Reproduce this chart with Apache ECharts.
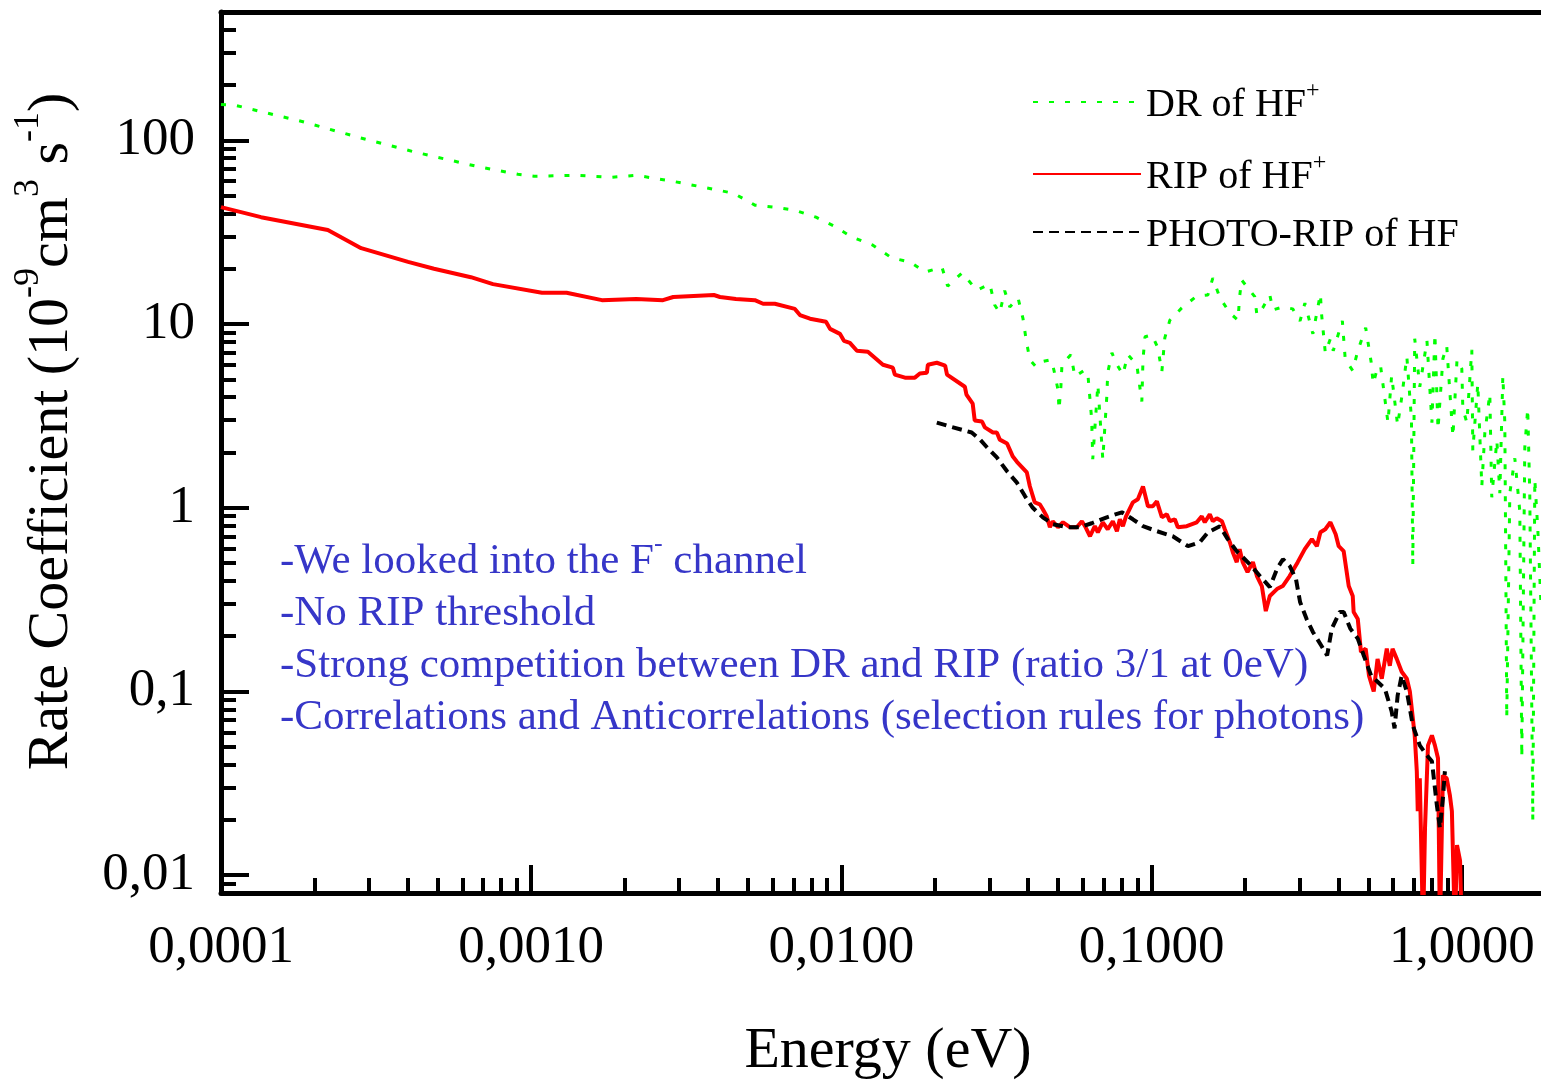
<!DOCTYPE html>
<html>
<head>
<meta charset="utf-8">
<script src="https://cdn.jsdelivr.net/npm/echarts@6/dist/echarts.min.js"></script>
<style>
html,body{margin:0;padding:0;background:#fff;}
#main{width:1541px;height:1082px;}
</style>
</head>
<body>
<div id="main"></div>
<script>
// tick positions (log axes)
var xMajor = [0.0001, 0.001, 0.01, 0.1, 1];
var xMinor = [0.0002,0.0003,0.0004,0.0005,0.0006,0.0007,0.0008,0.0009,
              0.002,0.003,0.004,0.005,0.006,0.007,0.008,0.009,
              0.02,0.03,0.04,0.05,0.06,0.07,0.08,0.09,
              0.2,0.3,0.4,0.5,0.6,0.7,0.8,0.9];
var yMajor = [0.01, 0.1, 1, 10, 100];
var yMinor = [0.009,
              0.02,0.03,0.04,0.05,0.06,0.07,0.08,0.09,
              0.2,0.3,0.4,0.5,0.6,0.7,0.8,0.9,
              2,3,4,5,6,7,8,9,
              20,30,40,50,60,70,80,90,
              200,300,400];

// DR of HF+ (green dotted)
var drData = [[1.0e-4,156.8],[1.117e-4,154.9],[1.824e-4,126.8],[2.78e-4,103.8],[4.25e-4,86.1],[6.69e-4,72.2],
  [9.06e-4,65.4],[1.02e-3,63.8],[1.383e-3,64.6],[1.82e-3,63.0],[2.18e-3,64.6],[2.86e-3,59.9],[3.88e-3,54.2],
  [4.50e-3,51.5],[5.26e-3,44.4],[6.10e-3,43.3],[7.08e-3,41.7],[8.28e-3,38.2],[9.45e-3,34.2],[1.081e-2,29.8],
  [1.263e-2,26.9],[1.454e-2,22.9],[1.663e-2,21.8],[1.86e-2,19.2],[2.11e-2,20.4],[2.20e-2,16.1],[2.45e-2,19.0],
  [2.73e-2,15.3],[3.01e-2,16.5],[3.12e-2,12.7],[3.24e-2,11.5],[3.36e-2,15.2],[3.49e-2,12.4],[3.71e-2,13.9],
  [3.85e-2,10.7],[3.94e-2,8.21],[4.05e-2,6.40],[4.24e-2,5.86],[4.43e-2,6.24],[4.74e-2,6.40],[4.84e-2,5.64],
  [4.99e-2,4.40],[5.03e-2,3.42],[5.10e-2,4.56],[5.14e-2,6.01],[5.49e-2,6.81],[5.66e-2,5.18],[6.10e-2,5.64],
  [6.24e-2,5.18],[6.41e-2,3.02],[6.46e-2,1.84],[6.71e-2,4.68],[6.96e-2,1.84],[7.17e-2,4.03],[7.22e-2,5.44],
  [7.45e-2,6.98],[7.67e-2,6.16],[8.08e-2,5.31],[8.38e-2,6.81],[8.96e-2,6.01],[9.16e-2,4.56],[9.30e-2,3.79],
  [9.38e-2,6.40],[9.52e-2,8.53],[0.1002,8.74],[0.1047,7.43],[0.1079,5.51],[0.1103,8.42],[0.1145,10.5],
  [0.1251,12.25],[0.1398,14.2],[0.1518,14.4],[0.1575,17.8],[0.1661,13.9],[0.1787,11.5],[0.190,10.5],
  [0.192,13.9],[0.195,17.4],[0.215,14.1],[0.2185,11.2],[0.228,12.25],[0.2405,14.4],[0.246,11.95],[0.265,12.4],
  [0.285,12.1],[0.301,10.4],[0.312,13.0],[0.331,8.85],[0.350,14.6],[0.353,11.4],[0.363,6.98],[0.377,8.32],
  [0.385,7.16],[0.412,10.4],[0.421,6.40],[0.445,5.58],[0.462,7.16],[0.490,9.54],[0.510,6.24],[0.518,4.74],
  [0.535,5.79],[0.547,5.94],[0.578,2.91],[0.594,5.24],[0.621,2.81],[0.640,3.98],[0.665,6.64],[0.688,3.06],
  [0.695,0.487],[0.705,8.32],[0.732,4.56],[0.772,8.11],[0.801,2.91],[0.819,8.85],[0.838,2.67],[0.869,6.48],
  [0.894,7.62],[0.936,2.44],[0.965,6.40],[1.0,5.72],[1.0075,3.47],[1.038,2.91],[1.077,7.25],[1.085,2.05],
  [1.126,4.74],[1.160,1.31],[1.186,2.54],[1.231,4.18],[1.249,1.14],[1.297,2.33],[1.326,1.2],[1.356,5.24],
  [1.376,2.91],[1.386,0.487],[1.396,0.072],[1.428,1.2],[1.482,1.86],[1.538,0.957],[1.561,0.0437],[1.596,2.13],
  [1.631,3.47],[1.656,1.2],[1.694,0.0197],[1.719,1.428],[1.758,0.764],[1.797,0.315]];

// RIP of HF+ (red solid)
var ripData = [[1.0e-4,43.3],[1.346e-4,38.2],[2.21e-4,32.5],[2.83e-4,25.9],[4.01e-4,21.8],[4.86e-4,20.0],
  [6.39e-4,18.0],[7.53e-4,16.5],[1.083e-3,14.8],[1.30e-3,14.8],[1.69e-3,13.5],[2.18e-3,13.7],[2.66e-3,13.5],
  [2.87e-3,14.05],[3.88e-3,14.4],[4.06e-3,14.05],[4.57e-3,13.7],[5.26e-3,13.5],[5.59e-3,12.9],[6.10e-3,12.9],
  [7.08e-3,12.1],[7.35e-3,11.2],[7.92e-3,10.7],[8.92e-3,10.3],[9.19e-3,9.42],[9.89e-3,8.85],[1.019e-2,8.11],
  [1.065e-2,7.91],[1.122e-2,7.16],[1.217e-2,7.07],[1.361e-2,6.01],[1.465e-2,5.79],[1.487e-2,5.31],[1.603e-2,5.11],
  [1.725e-2,5.11],[1.79e-2,5.38],[1.886e-2,5.44],[1.90e-2,6.01],[2.03e-2,6.16],[2.16e-2,5.94],[2.19e-2,5.31],
  [2.50e-2,4.56],[2.53e-2,4.13],[2.65e-2,3.69],[2.69e-2,2.99],[2.84e-2,2.95],[2.90e-2,2.74],[3.08e-2,2.57],
  [3.17e-2,2.57],[3.24e-2,2.35],[3.42e-2,2.24],[3.57e-2,1.90],[3.68e-2,1.78],[3.96e-2,1.56],[4.05e-2,1.31],
  [4.20e-2,1.07],[4.36e-2,1.045],[4.46e-2,0.981],[4.59e-2,0.899],[4.70e-2,0.784],[4.80e-2,0.845],[4.99e-2,0.784],
  [5.18e-2,0.834],[5.45e-2,0.784],[5.74e-2,0.784],[5.96e-2,0.845],[6.10e-2,0.794],[6.33e-2,0.700],[6.56e-2,0.794],
  [6.71e-2,0.736],[6.96e-2,0.834],[7.22e-2,0.764],[7.50e-2,0.845],[7.73e-2,0.746],[7.90e-2,0.866],[8.08e-2,0.794],
  [8.27e-2,0.899],[8.70e-2,1.07],[9.03e-2,1.112],[9.38e-2,1.308],[9.73e-2,1.02],[0.1009,1.02],[0.1040,1.085],
  [0.1079,0.888],[0.1120,0.922],[0.1145,0.845],[0.1188,0.866],[0.1215,0.784],[0.1298,0.794],[0.1398,0.834],
  [0.1451,0.899],[0.1484,0.834],[0.1540,0.922],[0.1575,0.845],[0.1622,0.877],[0.1685,0.845],[0.1722,0.764],
  [0.1787,0.650],[0.1827,0.573],[0.1881,0.506],[0.1922,0.596],[0.1966,0.506],[0.2038,0.447],[0.2121,0.506],
  [0.2185,0.425],[0.2266,0.375],[0.2334,0.274],[0.2405,0.331],[0.2535,0.361],[0.2647,0.375],[0.2786,0.425],
  [0.2958,0.506],[0.3117,0.596],[0.3286,0.675],[0.341,0.618],[0.350,0.736],[0.363,0.764],[0.377,0.834],
  [0.392,0.718],[0.401,0.618],[0.416,0.581],[0.432,0.375],[0.445,0.331],[0.448,0.271],[0.462,0.248],
  [0.473,0.164],[0.490,0.171],[0.502,0.122],[0.520,0.1],[0.535,0.1505],[0.552,0.1173],[0.573,0.171],
  [0.586,0.138],[0.598,0.171],[0.617,0.1505],[0.640,0.128],[0.665,0.1173],[0.680,0.1],[0.705,0.0577],
  [0.716,0.0368],[0.721,0.0223],[0.732,0.0337],[0.750,0.005],[0.761,0.0181],[0.778,0.0509],[0.801,0.0577],
  [0.819,0.0509],[0.838,0.0433],[0.850,0.005],[0.869,0.0350],[0.894,0.0337],[0.915,0.0273],[0.929,0.0223],
  [0.95,0.005],[0.965,0.0146],[0.987,0.0120],[1.0,0.005]];

// PHOTO-RIP of HF (black dashed)
var photoData = [[2.03e-2,2.91],[2.24e-2,2.77],[2.63e-2,2.57],[2.80e-2,2.35],[2.95e-2,2.13],[3.17e-2,1.88],
  [3.42e-2,1.58],[3.68e-2,1.37],[3.91e-2,1.155],[4.14e-2,1.0],[4.46e-2,0.888],[4.80e-2,0.814],[5.35e-2,0.784],
  [5.88e-2,0.784],[6.41e-2,0.824],[7.17e-2,0.888],[8.02e-2,0.945],[8.70e-2,0.866],[9.38e-2,0.794],[0.104,0.746],
  [0.117,0.700],[0.131,0.618],[0.143,0.650],[0.152,0.736],[0.166,0.794],[0.176,0.675],[0.188,0.581],[0.207,0.494],
  [0.228,0.409],[0.2405,0.370],[0.2535,0.464],[0.265,0.525],[0.279,0.481],[0.292,0.409],[0.301,0.307],
  [0.316,0.248],[0.331,0.211],[0.353,0.177],[0.368,0.157],[0.381,0.220],[0.404,0.271],[0.416,0.271],
  [0.437,0.220],[0.462,0.194],[0.483,0.157],[0.510,0.122],[0.535,0.113],[0.565,0.1035],[0.594,0.0779],
  [0.607,0.0630],[0.621,0.095],[0.640,0.122],[0.665,0.1],[0.695,0.0654],[0.732,0.0509],[0.772,0.0449],
  [0.801,0.0417],[0.831,0.0240],[0.850,0.0181],[0.869,0.0262],[0.882,0.0368]];

var notes = [
  '{t|-We looked into the F}{s|-}{t| channel}',
  '{t|-No RIP threshold}',
  '{t|-Strong competition between DR and RIP (ratio 3/1 at 0eV)}',
  '{t|-Correlations and Anticorrelations (selection rules for photons)}'
];

var serif = '"Liberation Serif", "Times New Roman", serif';
var xMin = 0.0001, xMax = 1.8, yMin = 0.008, yMax = 500;

function fmtX(v){ return (+v).toFixed(4).replace('.', ','); }
function fmtY(v){ return String(+(+v).toPrecision(6)).replace('.', ','); }

var legendNames = {
  'DR of HF+': '{t|DR of HF}{s|+}',
  'RIP of HF+': '{t|RIP of HF}{s|+}',
  'PHOTO-RIP of HF': '{t|PHOTO-RIP of HF}'
};
var legendText = {
  rich: {
    t: {fontSize: 40, fontFamily: serif, color: '#000', lineHeight: 46, verticalAlign: 'bottom'},
    s: {fontSize: 24, fontFamily: serif, color: '#000', lineHeight: 24, verticalAlign: 'top'}
  }
};
function makeLegend(name, top){
  return {
    data: [name], left: 1032, top: top, orient: 'vertical',
    itemWidth: 108, itemHeight: 14, padding: 0,
    itemStyle: {opacity: 0},
    formatter: function(n){ return legendNames[n]; },
    textStyle: legendText
  };
}

var myChart = echarts.init(document.getElementById('main'));
var option = {
  backgroundColor: '#fff',
  animation: false,
  grid: {left: 221, top: 12, right: 0, bottom: 189, containLabel: false, outerBoundsMode: 'none'},
  legend: [
    makeLegend('DR of HF+', 79),
    makeLegend('RIP of HF+', 151),
    makeLegend('PHOTO-RIP of HF', 215)
  ],
  xAxis: [
    {
      type: 'log', logBase: 10, min: xMin, max: xMax, position: 'bottom',
      axisLine: {show: true, onZero: false, lineStyle: {color: '#000', width: 5}},
      axisTick: {show: true, inside: true, length: 28, lineStyle: {color: '#000', width: 4}, customValues: xMajor},
      axisLabel: {customValues: xMajor, formatter: fmtX, fontSize: 53, fontFamily: serif, color: '#000', margin: 29},
      minorTick: {show: false}, splitLine: {show: false},
      name: 'Energy (eV)', nameLocation: 'middle', nameGap: 130,
      nameTextStyle: {fontSize: 58, fontFamily: serif, color: '#000', padding: [0, 0, 0, 14]}
    },
    {
      type: 'log', logBase: 10, min: xMin, max: xMax, position: 'bottom',
      axisLine: {show: false},
      axisTick: {show: true, inside: true, length: 15, lineStyle: {color: '#000', width: 4}, customValues: xMinor},
      axisLabel: {show: false}, splitLine: {show: false}
    },
    {
      type: 'log', logBase: 10, min: xMin, max: xMax, position: 'top',
      axisLine: {show: true, lineStyle: {color: '#000', width: 5}},
      axisTick: {show: false}, axisLabel: {show: false}, splitLine: {show: false}
    }
  ],
  yAxis: [
    {
      type: 'log', logBase: 10, min: yMin, max: yMax, position: 'left',
      axisLine: {show: true, onZero: false, lineStyle: {color: '#000', width: 5}},
      axisTick: {show: true, inside: true, length: 28, lineStyle: {color: '#000', width: 4}, customValues: yMajor},
      axisLabel: {customValues: yMajor, formatter: fmtY, fontSize: 53, fontFamily: serif, color: '#000', margin: 26},
      minorTick: {show: false}, splitLine: {show: false},
      name: '{t|Rate Coefficient (10}{s|-9}{t|cm}{s|3}{t| s}{s|-1}{t|)}',
      nameLocation: 'middle', nameRotate: 90, nameGap: 140,
      nameTextStyle: {
        color: '#000', padding: [0, 0, 0, 42],
        rich: {
          t: {fontSize: 58, fontFamily: serif, color: '#000', lineHeight: 70, verticalAlign: 'bottom'},
          s: {fontSize: 36, fontFamily: serif, color: '#000', lineHeight: 36, verticalAlign: 'top'}
        }
      }
    },
    {
      type: 'log', logBase: 10, min: yMin, max: yMax, position: 'left',
      axisLine: {show: false},
      axisTick: {show: true, inside: true, length: 15, lineStyle: {color: '#000', width: 4}, customValues: yMinor},
      axisLabel: {show: false}, splitLine: {show: false}
    }
  ],
  graphic: [{
    type: 'text', left: 280, top: 531, z: 10,
    style: {
      text: notes.join('\n'),
      rich: {
        t: {fontSize: 43, fontFamily: serif, fill: '#3636c8', lineHeight: 52, verticalAlign: 'bottom'},
        s: {fontSize: 26, fontFamily: serif, fill: '#3636c8', lineHeight: 26, verticalAlign: 'top'}
      }
    }
  }],
  series: [
    {
      name: 'DR of HF+', type: 'line', xAxisIndex: 0, yAxisIndex: 0,
      data: drData, symbol: 'none', clip: true, z: 2,
      lineStyle: {color: '#00ff00', width: 3, type: [5, 11]},
      itemStyle: {color: '#00ff00'}
    },
    {
      name: 'RIP of HF+', type: 'line', xAxisIndex: 0, yAxisIndex: 0,
      data: ripData, symbol: 'none', clip: true, z: 3,
      lineStyle: {color: '#ff0000', width: 4, type: 'solid'},
      itemStyle: {color: '#ff0000'}
    },
    {
      name: 'PHOTO-RIP of HF', type: 'line', xAxisIndex: 0, yAxisIndex: 0,
      data: photoData, symbol: 'none', clip: true, z: 4,
      lineStyle: {color: '#000000', width: 4, type: [10, 6]},
      itemStyle: {color: '#000000'}
    }
  ]
};
myChart.setOption(option);
</script>
</body>
</html>
